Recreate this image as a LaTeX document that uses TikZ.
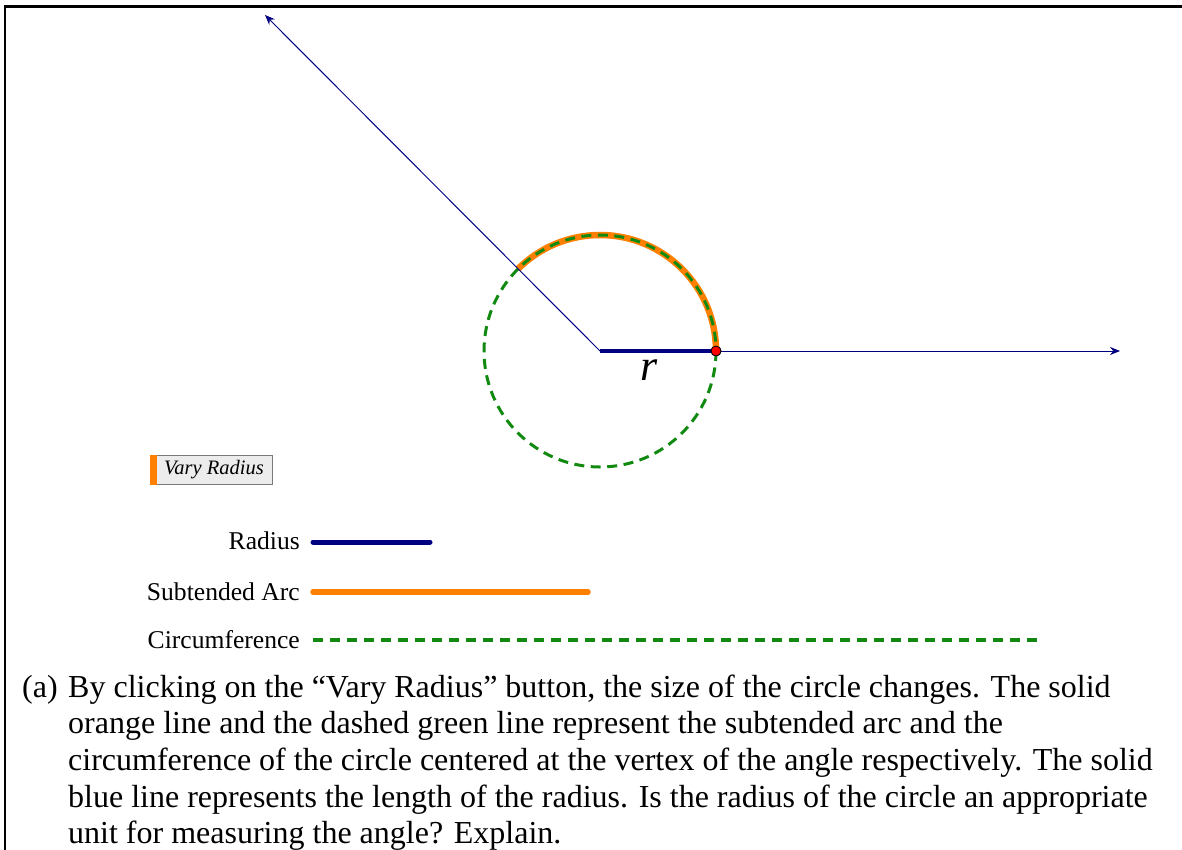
\documentclass[tikz,border=0pt]{standalone}
\usepackage{fontspec}
\setmainfont{Liberation Serif}
\usetikzlibrary{arrows.meta,positioning}
\definecolor{Navy}{HTML}{000080}
\definecolor{Orange}{HTML}{FF8000}
\definecolor{Green}{HTML}{128A12}
\definecolor{BtnGray}{HTML}{ECECEC}
\definecolor{BtnEdge}{HTML}{7A7A7A}

\begin{document}
\begin{tikzpicture}[x=1pt,y=-1pt,
frame/.style={draw=black,line width=2.4pt},
ray/.style={-{Stealth[length=10pt,width=8pt]},draw=Navy,line width=1pt},
radline/.style={draw=Navy,line width=4.5pt},
arcline/.style={draw=Orange,line width=6.5pt},
circline/.style={draw=Green,line width=3pt,dash pattern=on 10pt off 6.5pt},
dot/.style={circle,draw=black,fill=red,line width=.8pt,inner sep=0pt,minimum size=10pt},
btn/.style={draw=BtnEdge,fill=BtnGray,line width=1pt,minimum width=122pt,minimum height=29pt,inner sep=0pt,font=\fontsize{20.5}{24}\selectfont\itshape},
leg/.style={anchor=base east,inner sep=0pt,font=\fontsize{25.6}{30}\selectfont},
legblue/.style={draw=Navy,line width=5pt,line cap=round},
legorange/.style={draw=Orange,line width=5.5pt,line cap=round},
leggreen/.style={draw=Green,line width=3.5pt,dash pattern=on 10pt off 7pt},
txt/.style={anchor=base west,align=left,inner sep=0pt,font=\fontsize{32}{36.7}\selectfont}]
\useasboundingbox (0,0) rectangle (1182,850);
\draw[frame] (5,850) |- (1182,6.5);
\coordinate (O) at (600,351);
\coordinate (A) at (1120,351);
\coordinate (B) at (265,15);
\node[dot] (P) at (716,351) {};
\draw[arcline] (P.center) arc[start angle=0,end angle=-135,radius=116];
\draw[circline] (O) circle[radius=116];
\draw[ray] (O)--(A);
\draw[ray] (O)--(B);
\draw[radline] (O)--(P.center);
\node[dot] at (P) {};
\node[anchor=base,inner sep=0pt,font=\fontsize{44}{48}\selectfont\itshape] (rl) at (649,380) {r};
\node[btn] (vary) at (211,469.5) {\hspace{6pt}Vary Radius};
\fill[Orange] (vary.north west) rectangle ([xshift=7pt]vary.south west);
\node[leg] (lr) at (300,549) {Radius};
\node[leg] (la) at (300,600) {Subtended Arc};
\node[leg] (lc) at (300,648) {Circumference};
\coordinate (r1) at (313,542);
\coordinate (r2) at (430,542);
\coordinate (a1) at (313,592);
\coordinate (a2) at (588,592);
\coordinate (c1) at (313,640);
\coordinate (c2) at (1042,640);
\draw[legblue] (r1)--(r2);
\draw[legorange] (a1)--(a2);
\draw[leggreen] (c1)--(c2);
\node[txt] (qa) at (22,697) {(a)};
\node[txt] (qtext) at (68,843.8) {By clicking on the “Vary Radius” button, the size of the circle changes. The solid\\
orange line and the dashed green line represent the subtended arc and the\\
circumference of the circle centered at the vertex of the angle respectively. The solid\\
blue line represents the length of the radius. Is the radius of the circle an appropriate\\
unit for measuring the angle? Explain.};
\end{tikzpicture}
\end{document}
